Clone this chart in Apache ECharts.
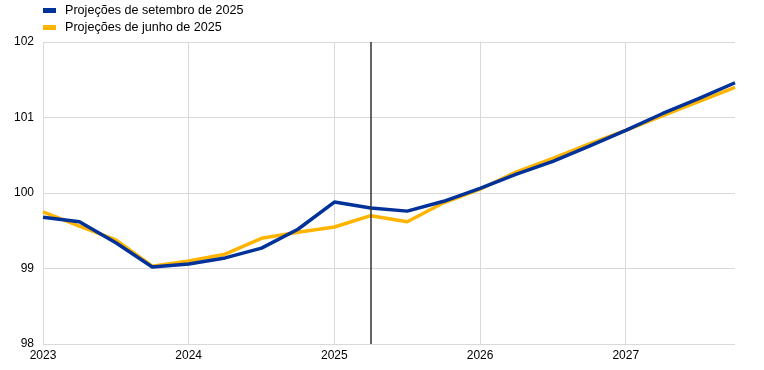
<!DOCTYPE html>
<html><head><meta charset="utf-8">
<script src="https://cdn.jsdelivr.net/npm/echarts@6/dist/echarts.min.js"></script>
<style>html,body{margin:0;padding:0;background:#fff}#c{width:764px;height:370px}</style>
</head><body><div id="c"></div>
<script>
const quarters = ['2023Q1','2023Q2','2023Q3','2023Q4','2024Q1','2024Q2','2024Q3','2024Q4','2025Q1','2025Q2','2025Q3','2025Q4','2026Q1','2026Q2','2026Q3','2026Q4','2027Q1','2027Q2','2027Q3','2027Q4'];
const septProj = [99.68,99.62,99.34,99.02,99.06,99.14,99.27,99.52,99.88,99.80,99.76,99.89,100.06,100.25,100.42,100.62,100.83,101.05,101.25,101.46];
const juneProj = [99.75,99.56,99.38,99.03,99.10,99.19,99.40,99.48,99.55,99.70,99.62,99.87,100.05,100.28,100.46,100.65,100.83,101.02,101.21,101.40];
const seriesNames = ['Projeções de setembro de 2025','Projeções de junho de 2025'];
const cutoff = '2025Q2';

const chart = echarts.init(document.getElementById('c'));
const font = 'Arial, "Liberation Sans", sans-serif';
chart.setOption({
  animation:false,
  textStyle:{fontFamily:font},
  legend:{
    orient:'vertical', left:38, top:-1, itemWidth:13, itemHeight:5, itemGap:4,
    textStyle:{fontFamily:font,fontSize:12.6,color:'#000',padding:[0,0,0,4]},
    data:[{name:seriesNames[0],icon:'rect'},{name:seriesNames[1],icon:'rect'}]
  },
  grid:{left:43,right:29,top:42,bottom:26,containLabel:false},
  xAxis:{
    type:'category', data:quarters, boundaryGap:false,
    axisLine:{show:false}, axisTick:{show:false},
    axisLabel:{interval:3,color:'#000',fontSize:12,fontFamily:font,margin:6,formatter:v=>v.slice(0,4)},
    splitLine:{show:true,interval:3,lineStyle:{color:'#d9d9d9',width:1}}
  },
  yAxis:{
    type:'value', min:98, max:102, interval:1,
    axisLine:{show:false}, axisTick:{show:false},
    axisLabel:{color:'#000',fontSize:12,fontFamily:font,margin:9},
    splitLine:{lineStyle:{color:'#d9d9d9',width:1}}
  },
  series:[
    {name:seriesNames[1],type:'line',data:juneProj,symbol:'none',lineStyle:{color:'#FFB400',width:3.5},itemStyle:{color:'#FFB400'},z:2},
    {name:seriesNames[0],type:'line',data:septProj,symbol:'none',lineStyle:{color:'#003299',width:3.5},itemStyle:{color:'#003299'},z:3,
     markLine:{symbol:'none',silent:true,label:{show:false},lineStyle:{color:'#333',width:1.5,type:'solid'},data:[{xAxis:cutoff}]}}
  ]
});
</script></body></html>
